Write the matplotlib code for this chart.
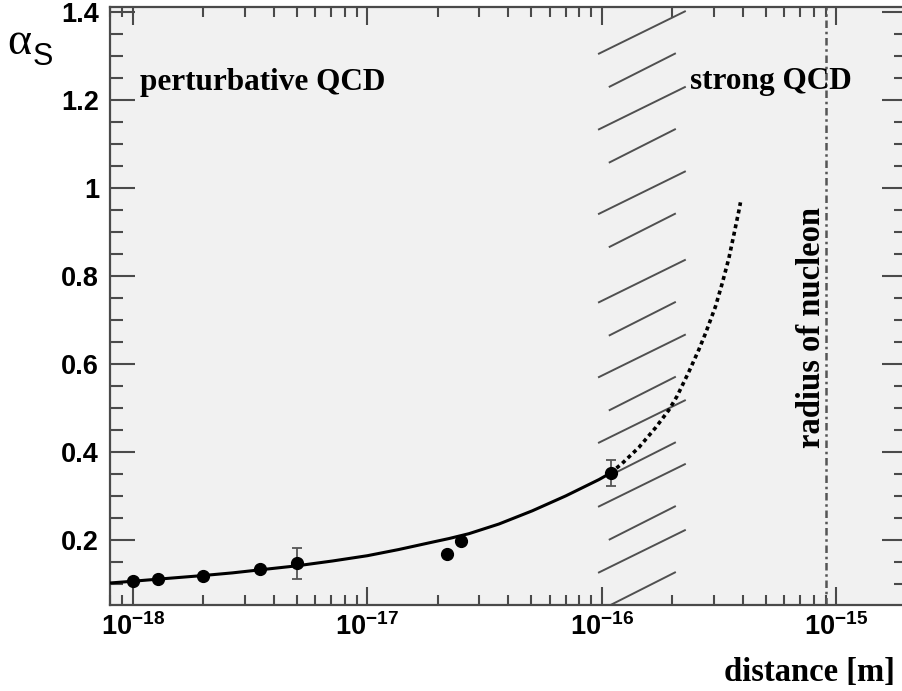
import matplotlib
matplotlib.use('Agg')
import matplotlib.pyplot as plt
from matplotlib.ticker import MultipleLocator, FixedLocator, FixedFormatter, LogLocator, NullFormatter

# ---------------- data ----------------
meas_r = [1.0e-18, 1.285e-18, 2.0e-18, 3.5e-18, 5.0e-18, 2.19e-17, 2.52e-17, 1.09e-16]
meas_alpha = [0.107, 0.111, 0.119, 0.133, 0.147, 0.167, 0.197, 0.352]
meas_err = [0.0, 0.0, 0.0, 0.0, 0.035, 0.0, 0.0, 0.030]

fit_r = [0.8e-18, 1.0e-18, 1.3e-18, 2.0e-18, 2.66e-18, 3.5e-18, 5.0e-18, 7.1e-18,
         1.0e-17, 1.36e-17, 1.9e-17, 2.23e-17, 2.71e-17, 3.64e-17, 5.05e-17,
         7.02e-17, 9.72e-17, 1.09e-16]
fit_alpha = [0.102, 0.106, 0.111, 0.119, 0.125, 0.132, 0.141, 0.152,
             0.164, 0.178, 0.195, 0.203, 0.214, 0.236, 0.266,
             0.300, 0.337, 0.352]

extrap_r = [1.09e-16, 1.222e-16, 1.438e-16, 1.695e-16, 1.93e-16, 2.095e-16, 2.35e-16,
            2.59e-16, 2.77e-16, 3.05e-16, 3.26e-16, 3.48e-16, 3.66e-16, 3.84e-16, 3.9e-16]
extrap_alpha = [0.352, 0.374, 0.410, 0.455, 0.495, 0.527, 0.582,
                0.632, 0.670, 0.730, 0.783, 0.840, 0.895, 0.948, 0.967]

nucleon_radius = 0.9e-15

# hatched transition band (levels where long/short strokes meet)
hatch_levels = [1.305, 1.133, 0.941, 0.740, 0.570, 0.421, 0.276, 0.126]
hatch_long_x = (0.972e-16, 2.26e-16)
hatch_short_x = (1.08e-16, 2.05e-16)
hatch_long_rise = 0.096
hatch_short_rise = 0.075

x_ticks = [1e-18, 1e-17, 1e-16, 1e-15]
x_tick_labels = [r'$\mathrm{10^{-18}}$', r'$\mathrm{10^{-17}}$',
                 r'$\mathrm{10^{-16}}$', r'$\mathrm{10^{-15}}$']
y_ticks = [0.2, 0.4, 0.6, 0.8, 1.0, 1.2, 1.4]
y_tick_labels = ['0.2', '0.4', '0.6', '0.8', '1', '1.2', '1.4']

# ---------------- style ----------------
plt.rcParams['mathtext.fontset'] = 'custom'
plt.rcParams['mathtext.rm'] = 'Liberation Sans:bold'
plt.rcParams['mathtext.it'] = 'Liberation Sans:bold'
plt.rcParams['mathtext.bf'] = 'Liberation Sans:bold'

W, H = 902, 691
fig = plt.figure(figsize=(W / 100, H / 100), dpi=100)
fig.patch.set_facecolor('white')

ax_left, ax_right, ax_top, ax_bottom = 110, 907, 7, 605
ax = fig.add_axes([ax_left / W, 1 - ax_bottom / H,
                   (ax_right - ax_left) / W, (ax_bottom - ax_top) / H])
ax.set_facecolor('#f1f1f1')
ax.set_xscale('log')
ax.set_xlim(8e-19, 2e-15)
ax.set_ylim(0.052, 1.411)

axis_col = '#4a4a4a'
for s in ax.spines.values():
    s.set_color(axis_col)
    s.set_linewidth(1.6)

# hatch strokes
hcol = '#505050'
for lv in hatch_levels:
    ax.plot(hatch_long_x, [lv, lv + hatch_long_rise], color=hcol, lw=1.4, zorder=2)
    ax.plot(hatch_short_x, [lv - hatch_short_rise, lv], color=hcol, lw=1.4, zorder=2)

# nucleon radius
ax.axvline(nucleon_radius, color='#555555', lw=1.8, ls=(0, (3, 1.5, 1, 1.5)), zorder=2)

# curves
ax.plot(fit_r, fit_alpha, color='black', lw=2.2, zorder=3, solid_capstyle='round')
ax.plot(extrap_r, extrap_alpha, color='black', lw=2.6, ls=(0, (1.1, 1.0)), zorder=3)

# measurements
ax.errorbar(meas_r, meas_alpha, yerr=meas_err, fmt='o', color='black',
            markersize=8.5, ecolor='#555555', elinewidth=1.3, capsize=3.5,
            capthick=1.3, zorder=4)

# ticks
ax.xaxis.set_major_locator(FixedLocator(x_ticks))
ax.xaxis.set_major_formatter(FixedFormatter(x_tick_labels))
ax.xaxis.set_minor_locator(LogLocator(base=10, subs=[2, 3, 4, 5, 6, 7, 8, 9], numticks=20))
ax.xaxis.set_minor_formatter(NullFormatter())
ax.yaxis.set_major_locator(FixedLocator(y_ticks))
ax.yaxis.set_major_formatter(FixedFormatter(y_tick_labels))
ax.yaxis.set_minor_locator(MultipleLocator(0.05))

ax.tick_params(axis='both', which='both', direction='in', colors=axis_col,
               top=True, right=True, width=1.5)
ax.tick_params(axis='x', which='major', length=13, pad=6, labelsize=19.5,
               labelcolor='black')
ax.tick_params(axis='x', which='minor', length=7)
ax.tick_params(axis='y', which='major', length=18, pad=8, labelsize=19.5,
               labelcolor='black')
ax.tick_params(axis='y', which='minor', length=9.5)
for lab in ax.get_yticklabels():
    lab.set_fontfamily('Liberation Sans')
    lab.set_fontweight('bold')

# texts
serif_b = dict(family='Liberation Serif', weight='bold', color='black')
fig.text(140 / W, 1 - 90 / H, 'perturbative QCD', ha='left', va='baseline',
         size=22.5, **serif_b)
fig.text(690 / W, 1 - 89 / H, 'strong QCD', ha='left', va='baseline',
         size=22.5, **serif_b)
fig.text(820 / W, 1 - 328 / H, 'radius of nucleon', ha='center', va='baseline',
         rotation=90, rotation_mode='anchor', size=23.5, **serif_b)
fig.text(895 / W, 1 - 681 / H, 'distance [m]', ha='right', va='baseline',
         size=23.5, **serif_b)

fig.text(7 / W, 1 - 54 / H, 'α', ha='left', va='baseline',
         family='Liberation Serif', size=33, color='black')
fig.text(33 / W, 1 - 65 / H, 'S', ha='left', va='baseline',
         family='Liberation Sans', size=22, color='black')

fig.savefig('out.png', dpi=100, facecolor='white')
